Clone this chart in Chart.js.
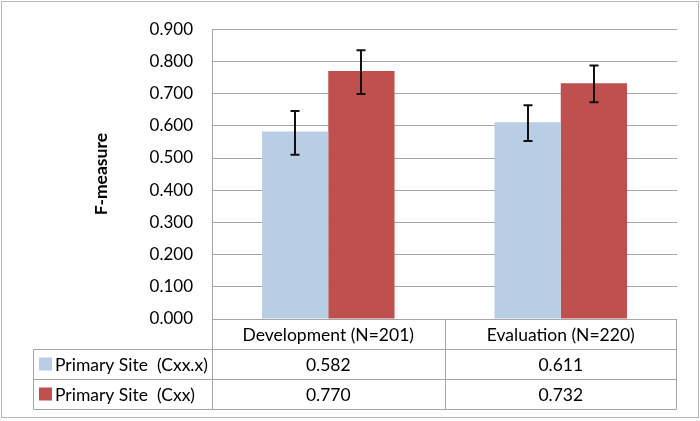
<!DOCTYPE html>
<html>
<head>
<meta charset="utf-8">
<script src="https://cdn.jsdelivr.net/npm/chart.js@4"></script>
<style>
html,body{margin:0;padding:0;background:#fff;}
#wrap{width:700px;height:421px;position:relative;}
</style>
</head>
<body>
<div id="wrap"><canvas id="c" width="700" height="421"></canvas></div>
<script>
const categories = ['Development (N=201)', 'Evaluation (N=220)'];
const seriesNames = ['Primary Site  (Cxx.x)', 'Primary Site  (Cxx)'];
const cxxxValues = [0.582, 0.611];
const cxxValues = [0.770, 0.732];
const cxxxErrLow = [0.510, 0.553];
const cxxxErrHigh = [0.646, 0.664];
const cxxErrLow = [0.699, 0.673];
const cxxErrHigh = [0.835, 0.787];
const colors = ['#b9cde5', '#c0504d'];

const FONT = 'Lato, "Open Sans", sans-serif';
const GRID = '#a6a6a6';

const errBars = [[cxxxErrLow, cxxxErrHigh], [cxxErrLow, cxxErrHigh]];
const seriesValues = [cxxxValues, cxxValues];

const extras = {
  id: 'extras',
  beforeDraw(chart) {
    const ctx = chart.ctx;
    ctx.save();
    ctx.fillStyle = '#fff';
    ctx.fillRect(0, 0, chart.width, chart.height);
    ctx.strokeStyle = '#b8b8b8';
    ctx.lineWidth = 1;
    ctx.strokeRect(1.5, 1.5, 697, 416);
    ctx.restore();
  },
  afterDatasetsDraw(chart) {
    const ctx = chart.ctx;
    const y = chart.scales.y;
    ctx.save();
    ctx.strokeStyle = '#111';
    ctx.lineWidth = 2;
    chart.data.datasets.forEach((ds, di) => {
      const meta = chart.getDatasetMeta(di);
      meta.data.forEach((bar, i) => {
        const x = Math.round(bar.x) ;
        const yl = y.getPixelForValue(errBars[di][0][i]);
        const yh = y.getPixelForValue(errBars[di][1][i]);
        ctx.beginPath();
        ctx.moveTo(x, yl); ctx.lineTo(x, yh);
        ctx.moveTo(x - 4.5, yl); ctx.lineTo(x + 4.5, yl);
        ctx.moveTo(x - 4.5, yh); ctx.lineTo(x + 4.5, yh);
        ctx.stroke();
      });
    });
    ctx.restore();
  },
  afterDraw(chart) {
    const ctx = chart.ctx;
    const ca = chart.chartArea;
    const xs = chart.scales.x;
    const n = categories.length;
    const cw = (ca.right - ca.left) / n;
    const rowH = 30;
    const top = Math.round(ca.bottom) + 0.5;
    const legL = 33.5;
    const left = Math.round(ca.left) + 0.5;
    const right = Math.round(ca.right) - 0.5;
    const bottom = top + rowH * 3;
    ctx.save();
    ctx.strokeStyle = GRID;
    ctx.lineWidth = 1;
    ctx.beginPath();
    ctx.moveTo(left, top); ctx.lineTo(right, top);
    for (let r = 1; r <= 3; r++) {
      ctx.moveTo(legL, top + rowH * r); ctx.lineTo(right, top + rowH * r);
    }
    ctx.moveTo(legL, top + rowH); ctx.lineTo(legL, bottom);
    ctx.moveTo(left, top); ctx.lineTo(left, bottom);
    for (let i = 1; i < n; i++) {
      const xb = Math.round(ca.left + cw * i) + 0.5;
      ctx.moveTo(xb, top); ctx.lineTo(xb, bottom);
    }
    ctx.moveTo(right, top); ctx.lineTo(right, bottom);
    ctx.stroke();

    ctx.fillStyle = '#000';
    ctx.font = '17.5px ' + FONT;
    ctx.textBaseline = 'middle';
    ctx.textAlign = 'center';
    categories.forEach((c, i) => {
      const cx = xs.getPixelForValue(i);
      ctx.fillText(c, cx, top + rowH / 2 + 1);
      seriesValues.forEach((vals, s) => {
        ctx.fillText(vals[i].toFixed(3), cx, top + rowH * (s + 1) + rowH / 2 + 1);
      });
    });
    ctx.textAlign = 'left';
    seriesNames.forEach((name, s) => {
      const ry = top + rowH * (s + 1);
      ctx.fillStyle = colors[s];
      ctx.fillRect(39, ry + 8, 13, 13);
      ctx.fillStyle = '#000';
      ctx.fillText(name, 55, ry + rowH / 2 + 1);
    });
    ctx.restore();
  }
};

new Chart(document.getElementById('c'), {
  type: 'bar',
  data: {
    labels: categories,
    datasets: [
      { label: seriesNames[0], data: cxxxValues, backgroundColor: colors[0], borderWidth: 0 },
      { label: seriesNames[1], data: cxxValues, backgroundColor: colors[1], borderWidth: 0 }
    ]
  },
  options: {
    responsive: false,
    animation: false,
    events: [],
    layout: { padding: { left: 0, top: 22, right: 23, bottom: 102 } },
    datasets: { bar: { categoryPercentage: 0.57, barPercentage: 1.0 } },
    plugins: { legend: { display: false }, tooltip: { enabled: false } },
    scales: {
      x: { display: false },
      y: {
        min: 0, max: 0.9,
        afterFit(scale) { scale.width = 212; },
        ticks: {
          stepSize: 0.1,
          padding: 19,
          color: '#000',
          font: { family: FONT, size: 17 },
          callback: (v) => Number(v).toFixed(3)
        },
        grid: { color: GRID, drawTicks: false, lineWidth: 1 },
        border: { display: true, color: GRID, width: 1 },
        title: {
          display: true,
          text: 'F-measure',
          color: '#000',
          font: { family: FONT, size: 17.5, weight: 'bold' },
          padding: { top: 91, bottom: 0 }
        }
      }
    }
  },
  plugins: [extras]
});
</script>
</body>
</html>
